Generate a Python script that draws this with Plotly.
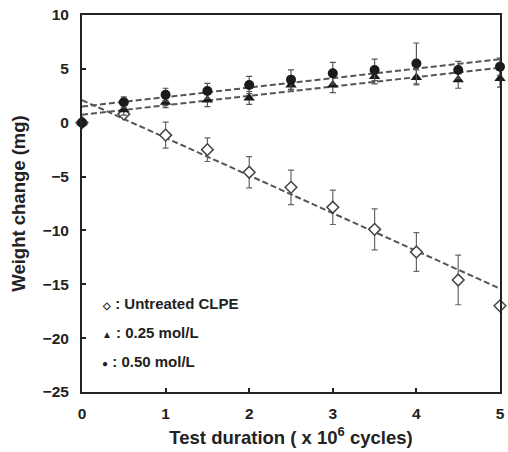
import plotly.graph_objects as go

x = [0, 0.5, 1, 1.5, 2, 2.5, 3, 3.5, 4, 4.5, 5]
untreated = [0, 0.8, -1.15, -2.5, -4.6, -6.0, -7.85, -9.9, -12.0, -14.6, -17.0]
untreated_err = [0, 0.3, 1.2, 1.1, 1.45, 1.6, 1.6, 1.9, 1.8, 2.3, 0]
mol025 = [0, 1.2, 1.9, 2.1, 2.3, 3.5, 3.5, 4.3, 4.2, 4.0, 4.1]
mol025_err = [0, 0.5, 0.5, 0.6, 0.6, 0.6, 0.7, 0.7, 0.7, 0.8, 0.8]
mol050 = [0, 1.9, 2.6, 2.95, 3.5, 4.0, 4.6, 4.9, 5.5, 4.9, 5.2]
mol050_err = [0, 0.5, 0.6, 0.7, 0.8, 0.9, 1.0, 1.0, 1.9, 0.8, 0.8]

fit_x = [0, 5]
fit_untreated = [2.1, -15.4]
fit_025 = [0.75, 5.1]
fit_050 = [1.5, 5.9]

legend_symbols = ["\u25c7", "\u25b2", "\u25cf"]
legend_labels = [" : Untreated CLPE", " : 0.25 mol/L", " : 0.50 mol/L"]
legend_y = [-16.75, -19.5, -22.2]

FONT = "Liberation Sans, Arial, sans-serif"
dash_col = "#555555"
fig = go.Figure()
for fy in [fit_untreated, fit_025, fit_050]:
    fig.add_trace(go.Scatter(x=fit_x, y=fy, mode="lines",
                             line=dict(color=dash_col, width=2, dash="6px,3px"),
                             showlegend=False, hoverinfo="skip", cliponaxis=False))

fig.add_trace(go.Scatter(x=x, y=untreated, mode="markers",
                         error_y=dict(type="data", array=untreated_err, color="#666666", thickness=1.2, width=3),
                         marker=dict(symbol="diamond", size=9, color="white",
                                     line=dict(color="#444444", width=1.5)),
                         showlegend=False, cliponaxis=False))
fig.add_trace(go.Scatter(x=x, y=mol025, mode="markers",
                         error_y=dict(type="data", array=mol025_err, color="#555555", thickness=1.2, width=3),
                         marker=dict(symbol="triangle-up", size=10, color="#1a1a1a"),
                         showlegend=False, cliponaxis=False))
fig.add_trace(go.Scatter(x=x, y=mol050, mode="markers",
                         error_y=dict(type="data", array=mol050_err, color="#555555", thickness=1.2, width=3),
                         marker=dict(symbol="circle", size=10, color="#1a1a1a"),
                         showlegend=False, cliponaxis=False))

for sym, lab, yv in zip(legend_symbols, legend_labels, legend_y):
    fig.add_annotation(x=0.22, y=yv, xref="x", yref="y",
                       text=f"<span style='font-size:10px'>{sym}</span>{lab}", showarrow=False,
                       xanchor="left", yanchor="middle",
                       font=dict(family=FONT, size=15, color="#222222", weight="bold"))

axis_common = dict(showline=True, linecolor="#222222", linewidth=2, mirror=True,
                   ticks="inside", ticklen=4, tickcolor="#222222", tickwidth=1.5,
                   showgrid=False, zeroline=False,
                   tickfont=dict(family=FONT, size=15.5, color="#222222", weight="bold"))

fig.update_layout(
    width=508, height=452,
    margin=dict(l=82, r=3, t=15, b=60),
    paper_bgcolor="white", plot_bgcolor="white",
    xaxis=dict(range=[0, 5], tickvals=[0, 1, 2, 3, 4, 5], ticklabelstandoff=6,
               title=dict(text="Test duration ( x 10<sup>6</sup> cycles)", standoff=10,
                          font=dict(family=FONT, size=18.5, color="#222222", weight="bold")),
               **axis_common),
    yaxis=dict(range=[-25, 10], tickvals=[-25, -20, -15, -10, -5, 0, 5, 10], ticklabelstandoff=8,
               ticktext=["\u221225", "\u221220", "\u221215", "\u221210", "\u22125", "0", "5", "10"],
               title=dict(text="Weight change (mg)", standoff=12,
                          font=dict(family=FONT, size=18.5, color="#222222", weight="bold")),
               **axis_common),
)

fig.write_html("out.html", config={"displayModeBar": False},
               post_script="document.body.style.margin='0';document.body.style.padding='0';document.body.style.overflow='hidden';")
